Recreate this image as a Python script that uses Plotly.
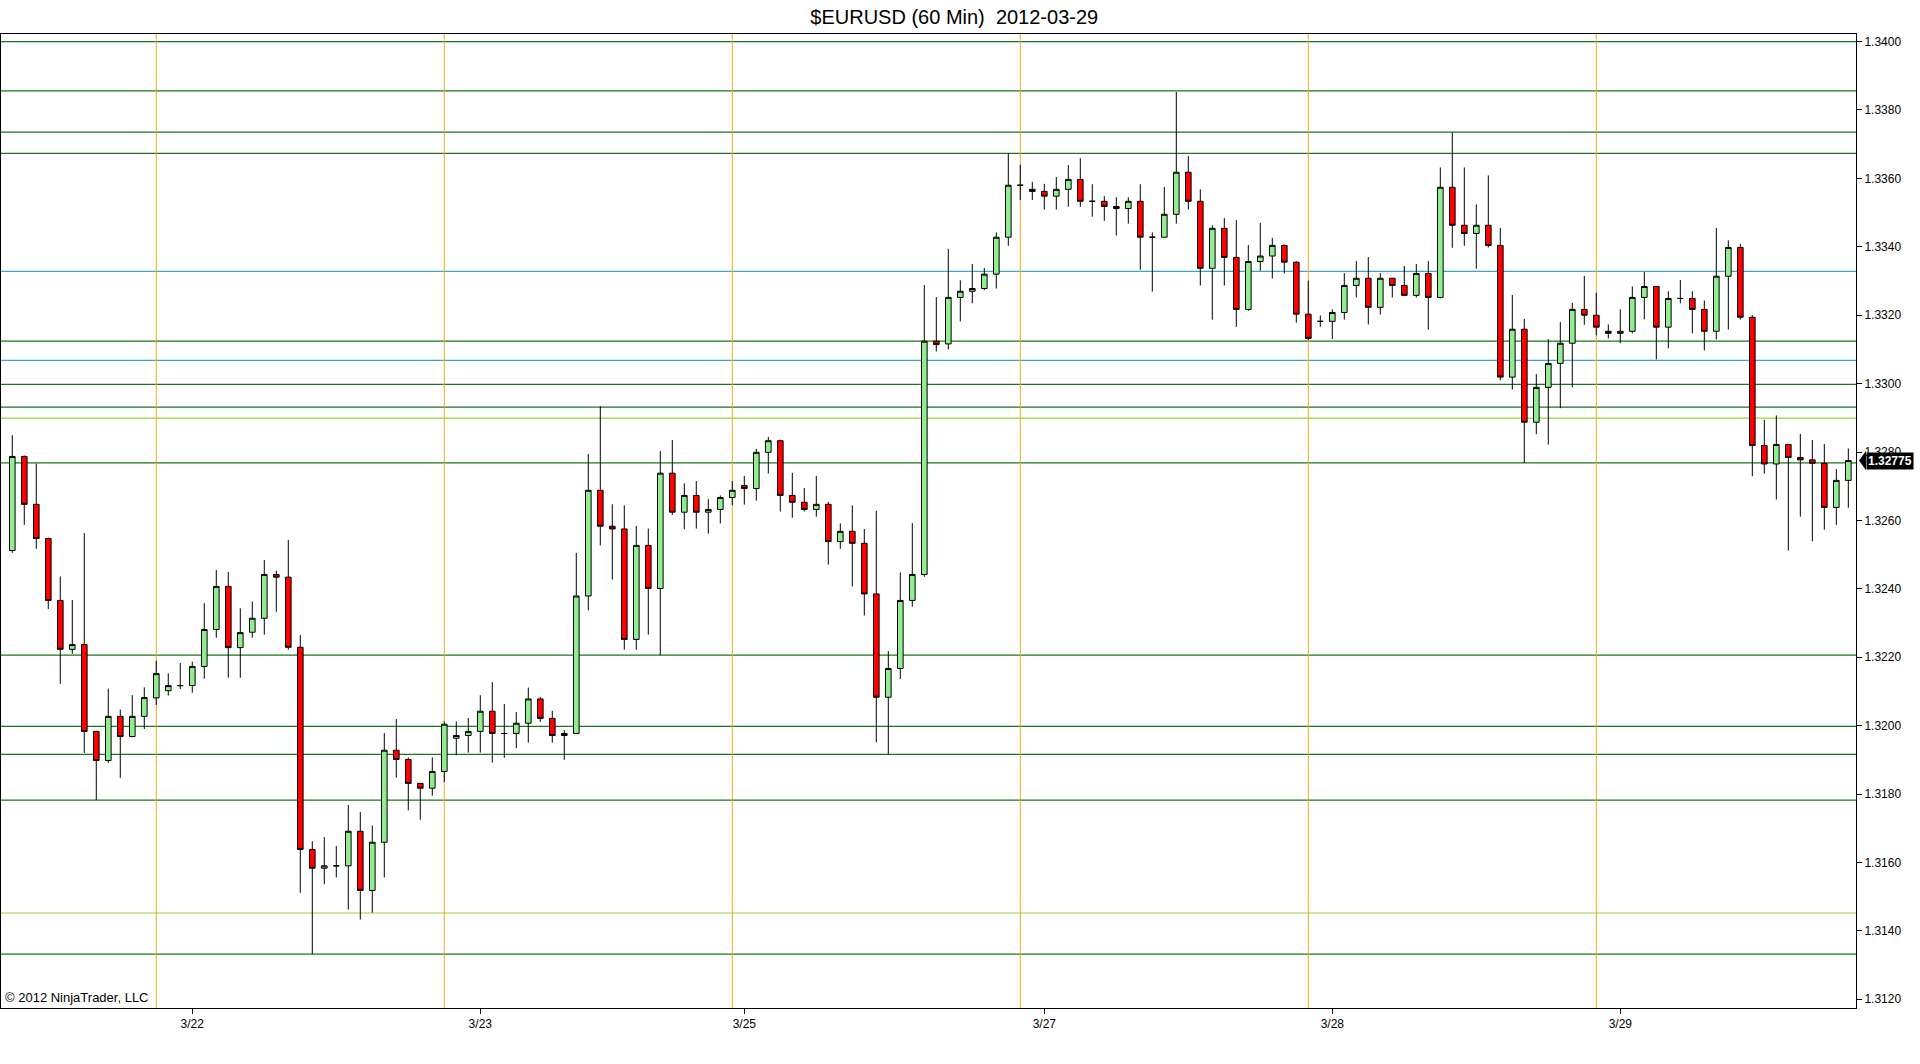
import plotly.graph_objects as go

# ---------------- data (60-min bars, EUR/USD) ----------------
opens = [1.32512,1.32787,1.32647,1.32547,1.32366,1.32223,1.32237,1.31983,1.31898,1.32027,
         1.31968,1.32027,1.32081,1.32102,1.32117,1.32117,1.32173,1.32281,1.32407,1.32228,
         1.32273,1.32314,1.32442,1.32434,1.32229,1.31638,1.31583,1.31590,1.31590,1.31691,
         1.31518,1.31659,1.31928,1.31901,1.31831,1.31817,1.31866,1.31963,1.31971,1.31983,
         1.32042,1.31977,1.31977,1.32007,1.32078,1.32021,1.31971,1.31977,1.32379,1.32688,
         1.32583,1.32575,1.32252,1.32527,1.32401,1.32738,1.32624,1.32673,1.32624,1.32632,
         1.32667,1.32702,1.32693,1.32799,1.32833,1.32673,1.32653,1.32632,1.32647,1.32538,
         1.32568,1.32533,1.32385,1.32083,1.32167,1.32366,1.32442,1.33124,1.33116,1.33252,
         1.33270,1.33278,1.33320,1.33428,1.33580,1.33568,1.33562,1.33548,1.33568,1.33597,
         1.33533,1.33533,1.33518,1.33512,1.33533,1.33428,1.33428,1.33495,1.33618,1.33533,
         1.33337,1.33454,1.33369,1.33217,1.33357,1.33373,1.33404,1.33355,1.33203,1.33182,
         1.33182,1.33208,1.33287,1.33308,1.33223,1.33308,1.33287,1.33258,1.33322,1.33252,
         1.33574,1.33463,1.33439,1.33463,1.33404,1.33019,1.33159,1.32887,1.32989,1.33059,
         1.33118,1.33217,1.33200,1.33153,1.33147,1.33153,1.33252,1.33284,1.33165,1.33249,
         1.33249,1.33217,1.33153,1.33314,1.33398,1.33194,1.32819,1.32765,1.32822,1.32784,
         1.32777,1.32767,1.32638,1.32717]
highs = [1.32849,1.32790,1.32766,1.32550,1.32436,1.32367,1.32563,1.31985,1.32108,1.32047,
         1.32089,1.32112,1.32190,1.32153,1.32183,1.32187,1.32358,1.32455,1.32449,1.32343,
         1.32363,1.32484,1.32453,1.32543,1.32265,1.31662,1.31674,1.31648,1.31768,1.31747,
         1.31708,1.31978,1.32019,1.31907,1.31831,1.31907,1.32012,1.32012,1.32022,1.32089,
         1.32127,1.32063,1.32040,1.32111,1.32084,1.32043,1.31987,1.32505,1.32794,1.32934,
         1.32647,1.32644,1.32584,1.32576,1.32803,1.32835,1.32708,1.32715,1.32662,1.32673,
         1.32715,1.32730,1.32809,1.32844,1.32836,1.32739,1.32695,1.32730,1.32654,1.32591,
         1.32644,1.32575,1.32628,1.32218,1.32448,1.32592,1.33288,1.33253,1.33394,1.33302,
         1.33350,1.33338,1.33442,1.33673,1.33640,1.33590,1.33584,1.33604,1.33639,1.33659,
         1.33583,1.33548,1.33545,1.33545,1.33583,1.33442,1.33575,1.33853,1.33665,1.33568,
         1.33463,1.33484,1.33478,1.33405,1.33470,1.33426,1.33407,1.33358,1.33301,1.33199,
         1.33217,1.33323,1.33358,1.33370,1.33323,1.33308,1.33344,1.33350,1.33358,1.33632,
         1.33734,1.33632,1.33524,1.33609,1.33455,1.33259,1.33189,1.33028,1.33130,1.33180,
         1.33236,1.33315,1.33266,1.33173,1.33217,1.33284,1.33326,1.33284,1.33270,1.33303,
         1.33270,1.33243,1.33455,1.33419,1.33408,1.33200,1.32894,1.32907,1.32822,1.32853,
         1.32835,1.32823,1.32750,1.32810]
lows = [1.32505,1.32587,1.32517,1.32341,1.32122,1.32210,1.31920,1.31782,1.31891,1.31847,
        1.31966,1.31990,1.32060,1.32088,1.32107,1.32096,1.32137,1.32257,1.32140,1.32140,
        1.32257,1.32266,1.32333,1.32222,1.31511,1.31332,1.31536,1.31556,1.31462,1.31433,
        1.31453,1.31556,1.31848,1.31752,1.31725,1.31795,1.31835,1.31913,1.31921,1.31921,
        1.31892,1.31906,1.31934,1.31950,1.32011,1.31950,1.31900,1.31975,1.32337,1.32527,
        1.32427,1.32222,1.32222,1.32266,1.32206,1.32616,1.32574,1.32576,1.32561,1.32591,
        1.32644,1.32646,1.32658,1.32737,1.32626,1.32608,1.32626,1.32611,1.32471,1.32517,
        1.32407,1.32322,1.31951,1.31917,1.32136,1.32348,1.32435,1.33094,1.33100,1.33182,
        1.33235,1.33274,1.33278,1.33403,1.33537,1.33537,1.33509,1.33509,1.33517,1.33517,
        1.33488,1.33476,1.33433,1.33468,1.33333,1.33269,1.33428,1.33468,1.33509,1.33287,
        1.33187,1.33287,1.33166,1.33213,1.33330,1.33307,1.33322,1.33178,1.33127,1.33166,
        1.33130,1.33187,1.33252,1.33173,1.33202,1.33252,1.33258,1.33252,1.33158,1.33249,
        1.33397,1.33403,1.33336,1.33398,1.33010,1.32983,1.32768,1.32852,1.32822,1.32928,
        1.32989,1.33172,1.33141,1.33132,1.33118,1.33147,1.33188,1.33071,1.33103,1.33235,
        1.33147,1.33097,1.33129,1.33158,1.33187,1.32729,1.32737,1.32661,1.32512,1.32611,
        1.32539,1.32573,1.32587,1.32637]
closes = [1.32787,1.32647,1.32547,1.32366,1.32223,1.32237,1.31983,1.31898,1.32027,1.31968,
          1.32027,1.32082,1.32152,1.32117,1.32117,1.32173,1.32281,1.32407,1.32228,1.32272,
          1.32314,1.32442,1.32434,1.32229,1.31638,1.31583,1.31590,1.31590,1.31691,1.31518,
          1.31659,1.31928,1.31901,1.31831,1.31817,1.31866,1.32004,1.31971,1.31983,1.32042,
          1.31977,1.31977,1.32007,1.32078,1.32021,1.31971,1.31977,1.32379,1.32688,1.32583,
          1.32575,1.32252,1.32527,1.32401,1.32738,1.32624,1.32673,1.32624,1.32632,1.32667,
          1.32688,1.32693,1.32799,1.32833,1.32673,1.32653,1.32632,1.32647,1.32538,1.32568,
          1.32533,1.32385,1.32083,1.32167,1.32366,1.32442,1.33124,1.33114,1.33252,1.33270,
          1.33278,1.33320,1.33428,1.33580,1.33580,1.33562,1.33548,1.33568,1.33597,1.33533,
          1.33533,1.33518,1.33512,1.33533,1.33428,1.33428,1.33495,1.33618,1.33533,1.33337,
          1.33454,1.33369,1.33217,1.33357,1.33373,1.33404,1.33355,1.33203,1.33132,1.33182,
          1.33208,1.33287,1.33308,1.33223,1.33308,1.33287,1.33258,1.33322,1.33252,1.33574,
          1.33463,1.33439,1.33463,1.33404,1.33019,1.33159,1.32887,1.32989,1.33059,1.33118,
          1.33217,1.33200,1.33165,1.33147,1.33153,1.33252,1.33284,1.33165,1.33249,1.33249,
          1.33217,1.33153,1.33314,1.33398,1.33194,1.32819,1.32765,1.32822,1.32784,1.32777,
          1.32767,1.32638,1.32717,1.32775]
bar_index = list(range(len(closes)))

date_tick_bars = [15, 39, 61, 86, 110, 134]
date_tick_labels = ["3/22", "3/23", "3/25", "3/27", "3/28", "3/29"]
session_break_bars = [12, 36, 60, 84, 108, 132]

level_prices = [1.34000, 1.33856, 1.33735, 1.33673, 1.33328, 1.33124, 1.33068, 1.32998,
                1.32931, 1.32899, 1.32768, 1.32206, 1.31998, 1.31916, 1.31782, 1.31452, 1.31332]
level_kinds = ["g", "g", "g", "g", "t", "g", "t", "g", "g", "y", "g", "g", "g", "g", "g", "y", "g"]

last_price = 1.32775
title_text = "$EURUSD (60 Min)  2012-03-29"
copyright_text = "© 2012 NinjaTrader, LLC"

# ---------------- figure ----------------
W, H = 1920, 1064
ML, MR, MT, MB = 1, 64, 34, 56
plot_w = W - ML - MR

kind_color = {"g": "#1d741d", "t": "#3aa9bd", "y": "#9fd23a"}

fig = go.Figure()
fig.add_trace(go.Candlestick(
    x=bar_index, open=opens, high=highs, low=lows, close=closes,
    increasing=dict(fillcolor="#90ee90", line=dict(color="black", width=1)),
    decreasing=dict(fillcolor="#ff0000", line=dict(color="black", width=1)),
    whiskerwidth=0, showlegend=False, hoverinfo="skip",
))

shapes = []
for p, k in zip(level_prices, level_kinds):
    shapes.append(dict(type="line", xref="paper", yref="y", x0=0, x1=1, y0=p, y1=p,
                       line=dict(color=kind_color[k], width=1.2), layer="below"))
for b in session_break_bars:
    shapes.append(dict(type="line", xref="x", yref="paper", x0=b, x1=b, y0=0, y1=1,
                       line=dict(color="#f5a623", width=1), layer="below"))
# last price arrow
px = 1.0 / plot_w
shapes.append(dict(type="path", xref="paper", yref="y",
                   path=f"M {1+3*px} {last_price} L {1+10*px} {last_price+0.00028} "
                        f"L {1+10*px} {last_price-0.00028} Z",
                   fillcolor="black", line=dict(color="black", width=0)))

fig.update_layout(
    width=W, height=H,
    margin=dict(l=ML, r=MR, t=MT, b=MB),
    paper_bgcolor="white", plot_bgcolor="white",
    font=dict(family="Arial, Liberation Sans, sans-serif", size=12, color="black"),
    title=dict(text=title_text, x=0.497, xanchor="center", y=1 - 17 / H, yanchor="middle",
               font=dict(size=20, color="black")),
    shapes=shapes,
    boxgap=0.33,
    xaxis=dict(range=[-0.94, 153.64], showgrid=False, zeroline=False,
               rangeslider=dict(visible=False),
               tickmode="array", tickvals=date_tick_bars, ticktext=date_tick_labels,
               ticks="outside", ticklen=5, tickcolor="black",
               showline=True, linecolor="black", linewidth=1, mirror=True,
               tickfont=dict(size=12)),
    yaxis=dict(range=[1.311743, 1.340222], side="right", showgrid=False, zeroline=False,
               dtick=0.002, tick0=1.312, tickformat=".4f",
               ticks="outside", ticklen=5, tickcolor="black",
               showline=True, linecolor="black", linewidth=1, mirror=True,
               tickfont=dict(size=12)),
    annotations=[
        dict(text=copyright_text, xref="paper", yref="paper", x=0, y=0,
             xanchor="left", yanchor="bottom", xshift=2, yshift=1, showarrow=False,
             font=dict(size=13, color="black")),
        dict(text="<b>" + f"{last_price:.5f}" + "</b>", xref="paper", yref="y",
             x=1 + 10 * px, y=last_price, xanchor="left", yanchor="middle",
             showarrow=False, bgcolor="black", borderpad=1,
             font=dict(size=12, color="white")),
    ],
)

fig.write_html("out.html",
               config={"displayModeBar": False},
               post_script="document.body.style.margin='0';document.body.style.overflow='hidden';")
